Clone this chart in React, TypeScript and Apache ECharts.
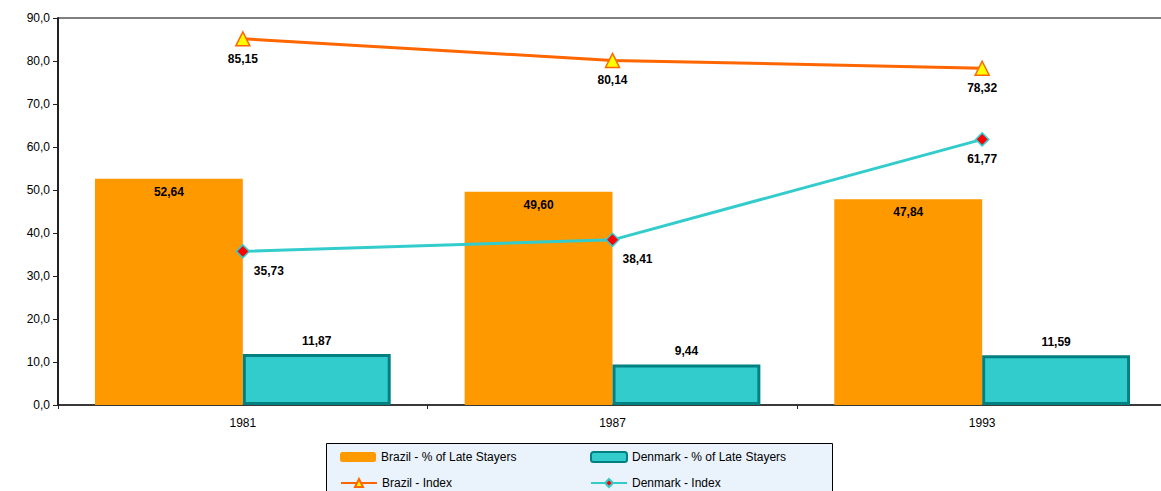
import React, { useEffect, useRef } from "react";
import * as echarts from "echarts";

const categories = ["1981", "1987", "1993"];
const brazilLate = [52.64, 49.6, 47.84];
const denmarkLate = [11.87, 9.44, 11.59];
const brazilIndex = [85.15, 80.14, 78.32];
const denmarkIndex = [35.73, 38.41, 61.77];
const denmarkIndexLabelOffsetX = [26, 25, 0];

const seriesNames = [
  "Brazil - % of Late Stayers",
  "Denmark - % of Late Stayers",
  "Brazil - Index",
  "Denmark - Index",
];

const FONT = "'Liberation Sans', Arial, sans-serif";
const fmt2 = (v: number) => v.toFixed(2).replace(".", ",");
const fmt1 = (v: number) => v.toFixed(1).replace(".", ",");

export default function App() {
  const ref = useRef<HTMLDivElement>(null);
  useEffect(() => {
    if (!ref.current) return;
    const chart = echarts.init(ref.current, undefined, { renderer: "svg" });
    const labelStyle = {
      show: true,
      fontFamily: FONT,
      fontSize: 12,
      fontWeight: "bold" as const,
      color: "#000",
      formatter: (p: any) => fmt2(p.value as number),
    };
    const legendPos = [
      { left: 340, top: 451 },
      { left: 590, top: 451 },
      { left: 340, top: 477 },
      { left: 590, top: 477 },
    ];
    chart.setOption({
      animation: false,
      backgroundColor: "#fff",
      textStyle: { fontFamily: FONT },
      grid: {
        left: 58,
        right: -6,
        top: 18,
        bottom: 86,
        outerBoundsMode: "none",
        containLabel: false,
        show: true,
        borderColor: "#000",
        borderWidth: 1,
        backgroundColor: "transparent",
      },
      xAxis: {
        type: "category",
        data: categories,
        boundaryGap: true,
        axisLine: { lineStyle: { color: "#222", width: 1.5 } },
        axisTick: { show: true, length: 4, lineStyle: { color: "#222" } },
        axisLabel: { color: "#000", fontSize: 12, fontFamily: FONT, margin: 12 },
        splitLine: { show: false },
      },
      yAxis: {
        type: "value",
        min: 0,
        max: 90,
        interval: 10,
        axisLine: { show: true, lineStyle: { color: "#222", width: 2 } },
        axisTick: { show: true, length: 5, lineStyle: { color: "#222" } },
        axisLabel: {
          color: "#000",
          fontSize: 12,
          fontFamily: FONT,
          margin: 8,
          formatter: (v: number) => fmt1(v),
        },
        splitLine: { show: false },
      },
      legend: seriesNames.map((name, i) => ({
        data: [name],
        left: legendPos[i].left,
        top: legendPos[i].top,
        itemWidth: 36,
        itemHeight: 10,
        padding: 0,
        textStyle: { color: "#000", fontSize: 12, fontFamily: FONT },
      })),
      graphic: [
        {
          type: "rect",
          left: 326,
          top: 443,
          shape: { width: 506, height: 60 },
          style: { fill: "#EAF3FC", stroke: "#000", lineWidth: 1 },
          z: -1,
        },
      ],
      series: [
        {
          name: seriesNames[0],
          type: "bar",
          data: brazilLate,
          barGap: "0%",
          barCategoryGap: "20%",
          itemStyle: { color: "#FF9900" },
          label: { ...labelStyle, position: "insideTop", distance: 7 },
        },
        {
          name: seriesNames[1],
          type: "bar",
          data: denmarkLate,
          itemStyle: { color: "#33CCCC", borderColor: "#008080", borderWidth: 3 },
          label: { ...labelStyle, position: "top", distance: 7 },
        },
        {
          name: seriesNames[2],
          type: "line",
          data: brazilIndex,
          symbol: "triangle",
          symbolSize: 14,
          lineStyle: { color: "#FF6600", width: 3 },
          itemStyle: { color: "#FFFF00", borderColor: "#FF6600", borderWidth: 1.5 },
          label: { ...labelStyle, position: "bottom", distance: 6 },
          z: 5,
        },
        {
          name: seriesNames[3],
          type: "line",
          data: denmarkIndex.map((v, i) => ({
            value: v,
            label: { offset: [denmarkIndexLabelOffsetX[i], 0] },
          })),
          symbol: "diamond",
          symbolSize: 13,
          lineStyle: { color: "#33CCCC", width: 3 },
          itemStyle: { color: "#FF0000", borderColor: "#33CCCC", borderWidth: 1.5 },
          label: { ...labelStyle, position: "bottom", distance: 6 },
          z: 5,
        },
      ],
    });
    return () => chart.dispose();
  }, []);
  return (
    <div
      ref={ref}
      style={{ position: "absolute", left: 0, top: 0, width: 1161, height: 491 }}
    />
  );
}
